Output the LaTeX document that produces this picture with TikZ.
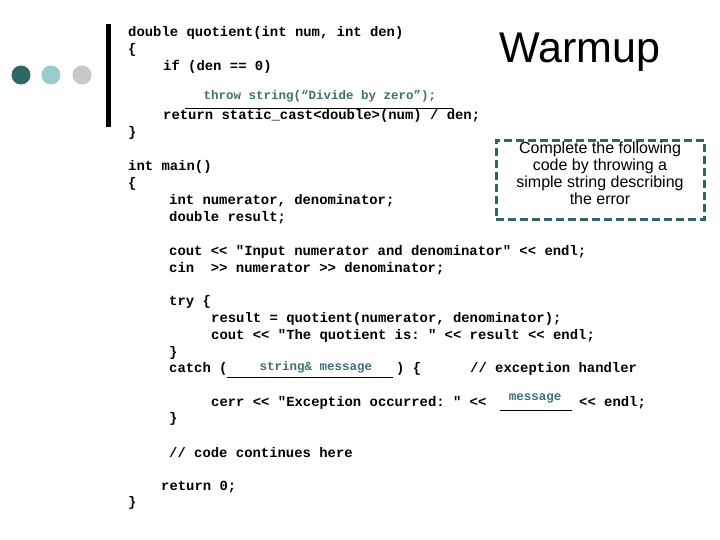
\documentclass[tikz,border=0pt]{standalone}
\usepackage{fontspec}
\setmainfont{Liberation Sans}
\setmonofont{Liberation Mono}
\definecolor{darkteal}{HTML}{2F6767}
\definecolor{lightteal}{HTML}{99CCCC}
\definecolor{lightgray}{HTML}{C8C8C8}
\definecolor{answer}{HTML}{3F6F70}
\tikzset{
	code/.style = {anchor=west, inner sep=0pt, font=\ttfamily\bfseries\fontsize{13.9}{16}\selectfont},
	answerText/.style = {anchor=base, inner sep=0pt, text=answer, font=\ttfamily\bfseries\fontsize{12.5}{14}\selectfont},
	blank/.style = {thin, black},
}
\begin{document}
\begin{tikzpicture}[x=1pt, y=-1pt]
	\useasboundingbox (0,0) rectangle (720,540);
	
	%% DECORATION
	\fill [darkteal]  (21,75) circle (9.5);
	\fill [lightteal] (51,75) circle (9.5);
	\fill [lightgray] (82,75) circle (9.5);
	\fill [black] (106,24) rectangle (111,127);
	
	% Title
	\node [anchor=west, inner sep=0pt, font=\fontsize{43}{46}\selectfont] (title) at (499,52) {Warmup};
	
	% Hint box
	\node [draw=darkteal, line width=3pt, dash pattern=on 8pt off 4pt, align=center, inner sep=2pt,
	       font=\fontsize{16}{17}\selectfont, minimum width=208pt, minimum height=74pt] (hint) at (600,180)
	       {Complete the following\\code by throwing a\\simple string describing\\the error\vphantom{g}\\[-9pt]\strut};
	
	%% CODE
	\node [code] (l1)  at (128,33)  {double quotient(int num, int den)};
	\node [code] (l2)  at (128,50)  {\{};
	\node [code] (l3)  at (163,67)  {if (den == 0)};
	\node [code] (l4)  at (163,116) {return static\_cast<double>(num) / den;};
	\node [code] (l5)  at (128,133) {\}};
	\node [code] (l6)  at (128,167) {int main()};
	\node [code] (l7)  at (128,184) {\{};
	\node [code] (l8)  at (169,201) {int numerator, denominator;};
	\node [code] (l9)  at (169,218) {double result;};
	\node [code] (l10) at (169,252) {cout << "Input numerator and denominator" << endl;};
	\node [code] (l11) at (169,269) {cin\ \ >> numerator >> denominator;};
	\node [code] (l12) at (169,302) {try \{};
	\node [code] (l13) at (211,319) {result = quotient(numerator, denominator);};
	\node [code] (l14) at (211,336) {cout << "The quotient is: " << result << endl;};
	\node [code] (l15) at (169,353) {\}};
	\node [code] (l16) at (169,369) {catch (};
	\node [code] (l17) at (396,369) {) \{};
	\node [code] (l18) at (470,369) {// exception handler};
	\node [code] (l19) at (211,403) {cerr << "Exception occurred: " <<};
	\node [code] (l20) at (579,403) {<< endl;};
	\node [code] (l21) at (169,419) {\}};
	\node [code] (l22) at (169,453) {// code continues here};
	\node [code] (l23) at (161,487) {return 0;};
	\node [code] (l24) at (128,503) {\}};
	
	%% FILLED BLANKS
	\node [answerText] (ans1) at (320,100) {throw string(“Divide by zero”);};
	\draw [blank] (185,108) -- (453,108);
	\node [answerText] (ans2) at (316,370) {string\& message};
	\draw [blank] (227,377) -- (393,377);
	\node [answerText] (ans3) at (535,400) {message};
	\draw [blank] (500,410) -- (572,410);
	
\end{tikzpicture}
\end{document}
